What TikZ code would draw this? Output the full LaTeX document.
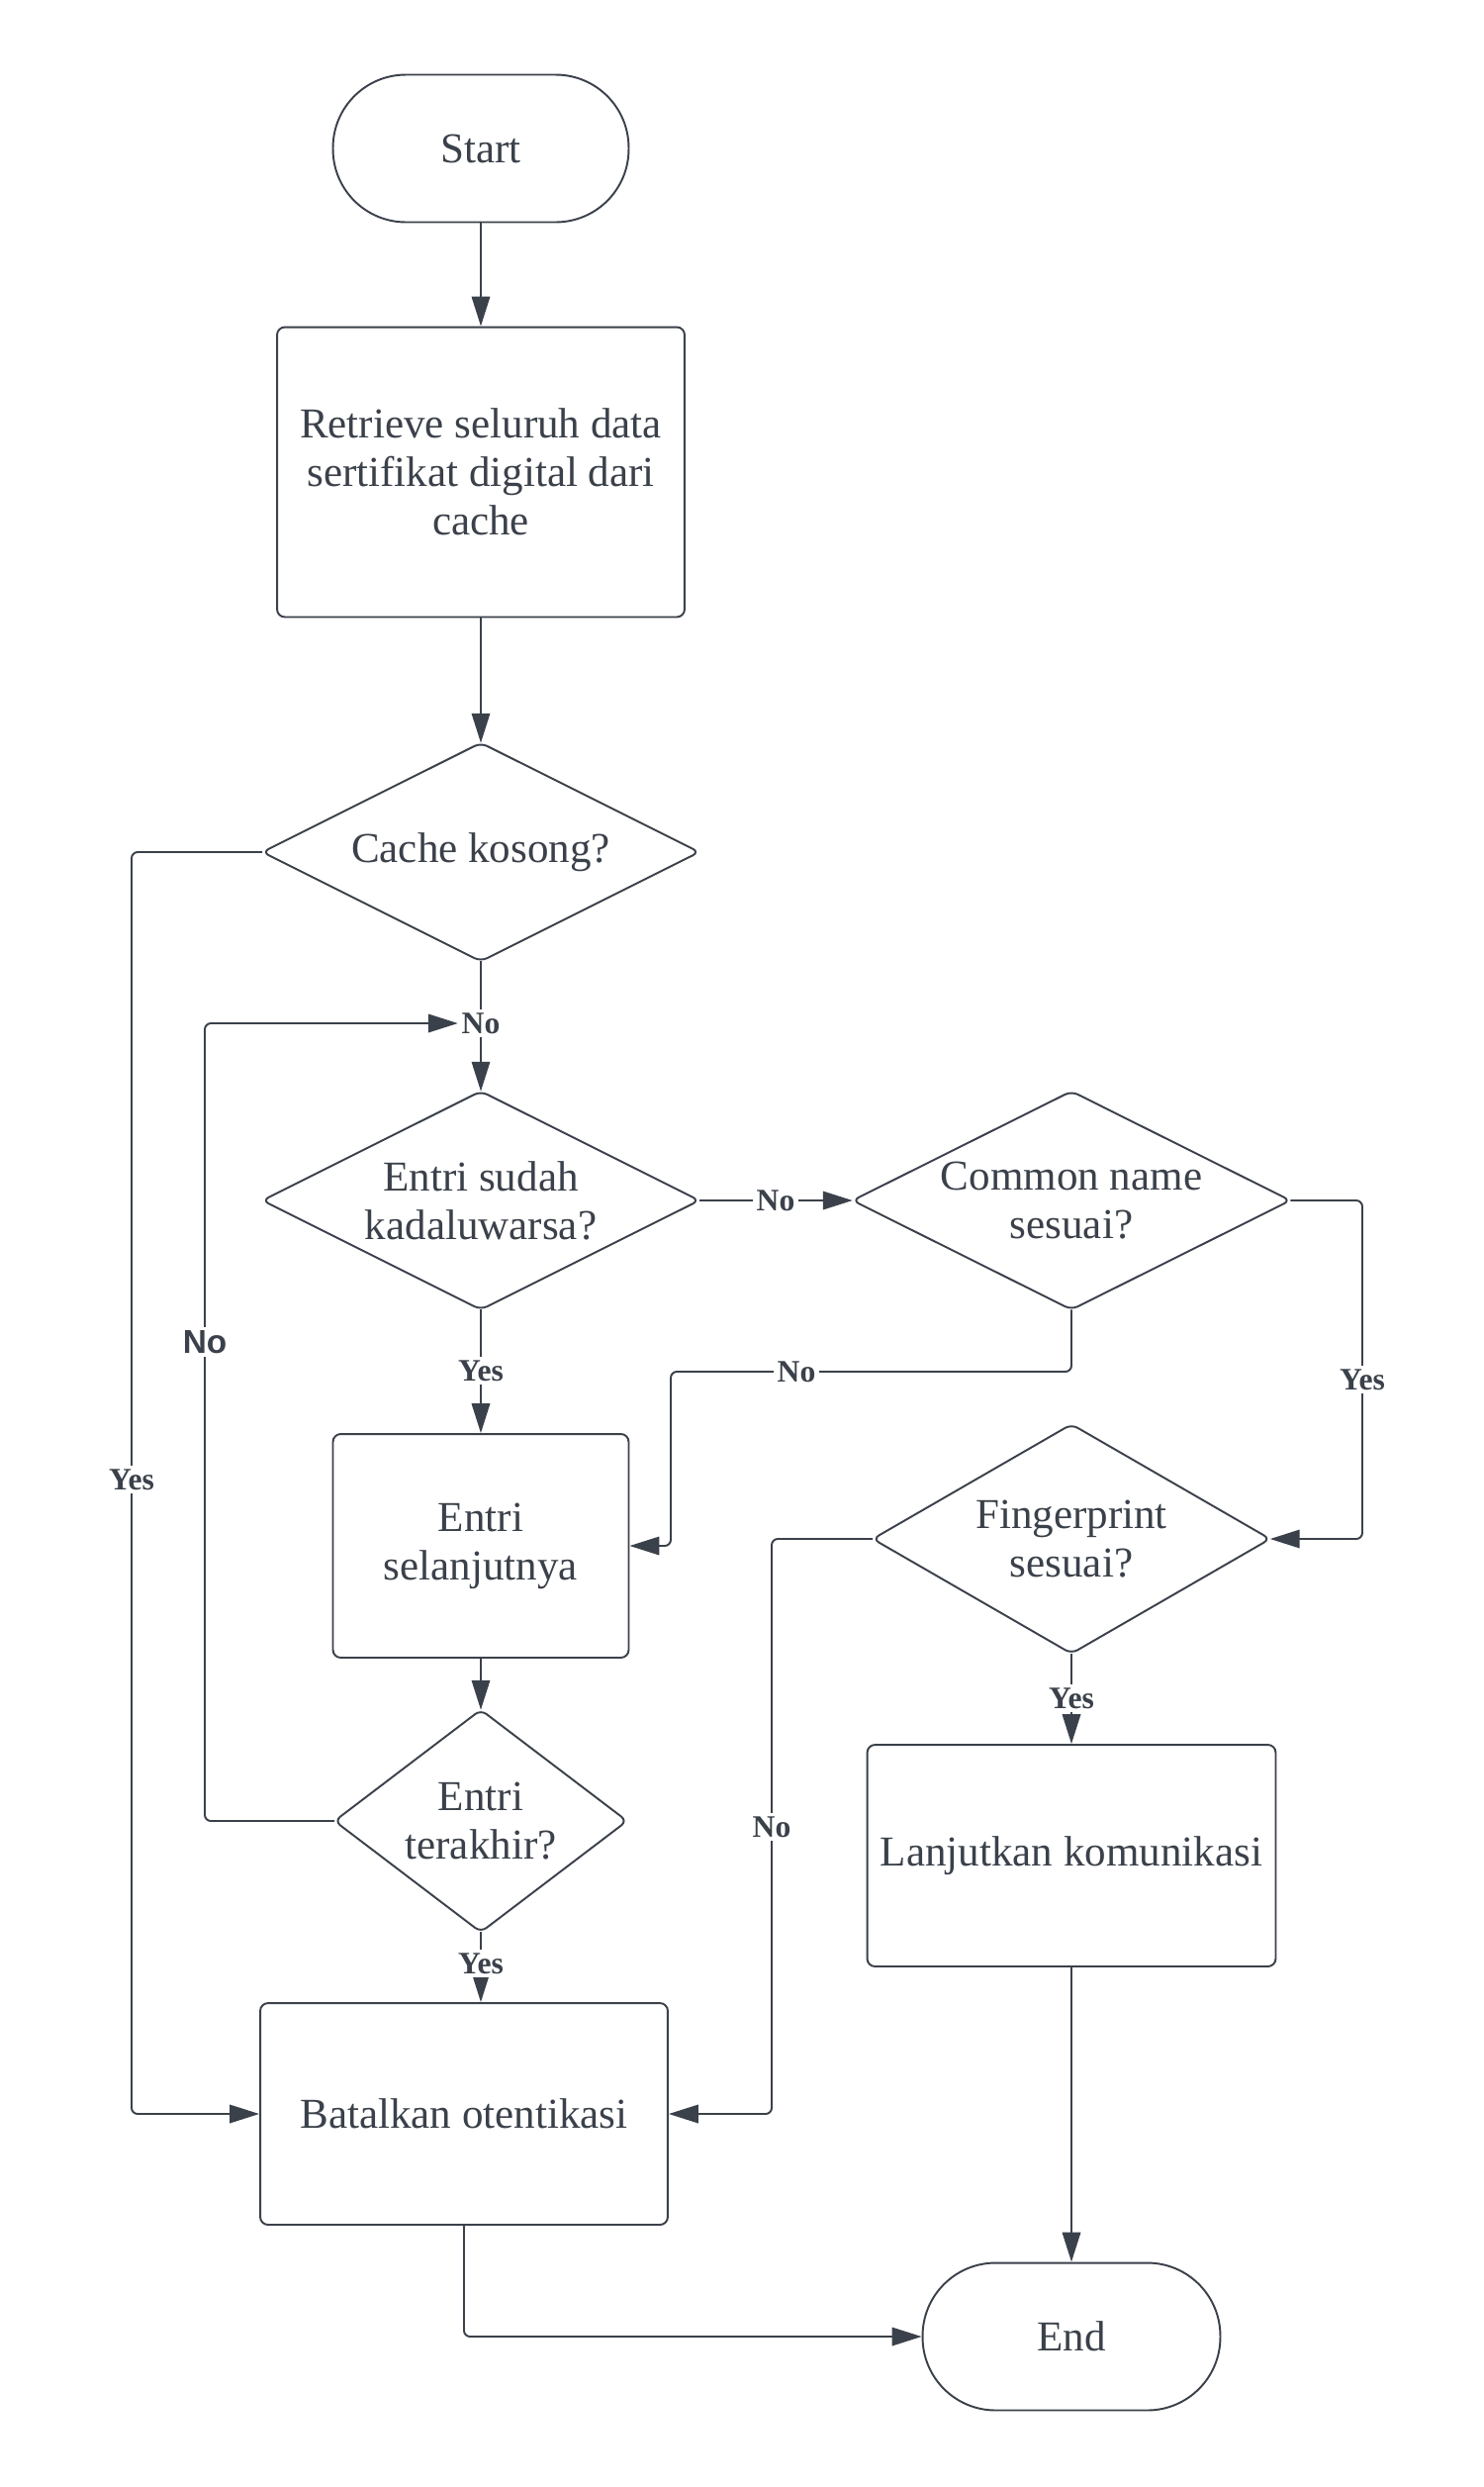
\documentclass[tikz,border=0pt]{standalone}
\usepackage{fontspec}
\setmainfont{Liberation Serif}
\newfontfamily\lblsans{Liberation Sans}
\usetikzlibrary{arrows.meta,calc}
\definecolor{lc}{RGB}{59,65,74}
\begin{document}
\begin{tikzpicture}[x=0.02cm,y=-0.02cm,
  every node/.style={text=lc},
  box/.style={draw=lc, line width=1.1pt, rounded corners=4.5pt, fill=white, align=center, inner sep=0pt, font=\fontsize{24.5}{28}\selectfont},
  pill/.style={box, rounded corners=42pt},
  dia/.style={align=center, inner sep=0pt, font=\fontsize{24.5}{28}\selectfont},
  dshape/.style={draw=lc, line width=1.1pt, rounded corners=4pt},
  conn/.style={draw=lc, line width=1.1pt, rounded corners=3.5pt, -{Triangle[length=17pt,width=10.5pt]}},
  lbl/.style={fill=white, inner sep=2pt, font=\bfseries\fontsize{18}{20}\selectfont},
  lblsf/.style={fill=white, inner sep=2pt, font=\lblsans\bfseries\fontsize{19}{21}\selectfont},
]
\useasboundingbox[fill=white] (0,0) rectangle (1500,2513);

% nodes
\node[pill, minimum width=5.98cm, minimum height=2.98cm] (start) at (486,150) {Start};
\node[box, minimum width=8.24cm, minimum height=5.86cm] (retr) at (486,477) {Retrieve seluruh data\\sertifikat digital dari\\cache};
\node[dia, minimum width=8.82cm, minimum height=4.4cm] (cache) at (486,861) {Cache kosong?};
\node[dia, minimum width=8.82cm, minimum height=4.4cm] (exp) at (486,1213) {Entri sudah\\kadaluwarsa?};
\node[dia, minimum width=8.84cm, minimum height=4.4cm] (cn) at (1083,1213) {Common name\\sesuai?};
\node[box, minimum width=5.98cm, minimum height=4.52cm] (next) at (486,1562) {Entri\\selanjutnya};
\node[dia, minimum width=8.02cm, minimum height=4.62cm] (fp) at (1083,1555) {Fingerprint\\sesuai?};
\node[dia, minimum width=5.9cm, minimum height=4.48cm] (last) at (486,1840) {Entri\\terakhir?};
\node[box, minimum width=8.26cm, minimum height=4.48cm] (cont) at (1083,1875) {Lanjutkan komunikasi};
\node[box, minimum width=8.24cm, minimum height=4.48cm] (abort) at (469,2136) {Batalkan otentikasi};
\node[pill, minimum width=6.02cm, minimum height=2.98cm] (end) at (1083,2361) {End};

% diamond outlines
\foreach \d in {cache,exp,cn,fp,last}{
  \draw[dshape] (\d.north) -- (\d.east) -- (\d.south) -- (\d.west) -- cycle;
}

% bend coordinates
\coordinate (yesx) at (133,0);
\coordinate (loopx) at (207,0);
\coordinate (cnx) at (678,0);
\coordinate (cny) at (0,1386);
\coordinate (cnyes) at (1377,0);
\coordinate (fpx) at (780,0);

% connectors
\draw[conn] (start) -- (retr);
\draw[conn] (retr) -- (cache.north);
\draw[conn] (cache.west) -- (cache.west -| yesx) -- (abort.west -| yesx) -- (abort.west);
\draw[conn] (cache.south) -- (exp.north);
\draw[conn] (exp.east) -- (cn.west);
\draw[conn] (exp.south) -- (next.north);
\draw[conn] (cn.south) -- (cn.south |- cny) -- (cny -| cnx) -- (next.east -| cnx) -- (next.east);
\draw[conn] (cn.east) -- (cn.east -| cnyes) -- (fp.east -| cnyes) -- (fp.east);
\draw[conn] (fp.south) -- (cont.north);
\draw[conn] (fp.west) -- (fp.west -| fpx) -- (abort.east -| fpx) -- (abort.east);
\draw[conn] (next.south) -- (last.north);
\draw[conn] (last.south) -- (last.south |- abort.north);
\draw[conn] (abort.south) |- (end.west);
\draw[conn] (cont.south) -- (end.north);

% labels
\node[lbl] (lcache) at (486,1034) {No};
\draw[conn] (last.west) -- (last.west -| loopx) -- (lcache.west -| loopx) -- (lcache.west);
\node[lbl] (lyes1) at (133,1495) {Yes};
\node[lblsf] (lloop) at (207,1356) {No};
\node[lbl] (lexpno) at (784,1213) {No};
\node[lbl] (lexpyes) at (486,1385) {Yes};
\node[lbl] (lcnno) at (805,1386) {No};
\node[lbl] (lcnyes) at (1377,1394) {Yes};
\node[lbl] (lfpyes) at (1083,1716) {Yes};
\node[lbl] (lfpno) at (780,1846) {No};
\node[lbl] (llastyes) at (486,1984) {Yes};
\end{tikzpicture}
\end{document}
